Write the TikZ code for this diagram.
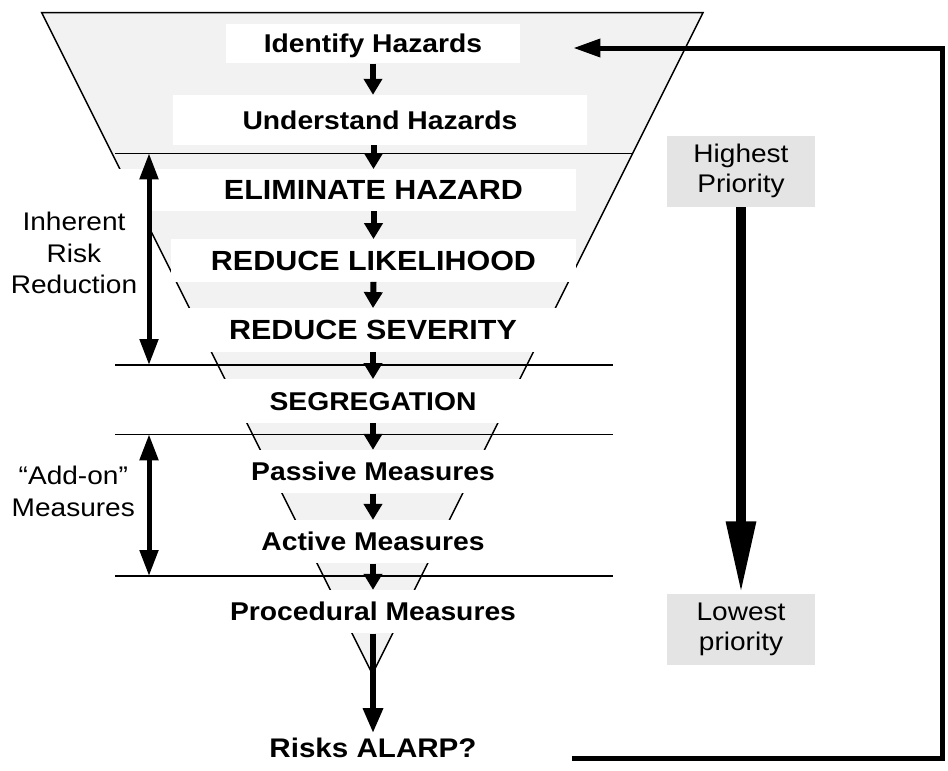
\documentclass[tikz,border=0pt]{standalone}
\usepackage{fontspec}
\setmainfont{Liberation Sans}[FakeStretch=1.1]
\usetikzlibrary{arrows.meta}
\definecolor{gfunnel}{HTML}{F2F2F2}
\definecolor{gprio}{HTML}{E4E4E4}
\begin{document}
\begin{tikzpicture}[x=1pt,y=-1pt,
  wbox/.style={fill=white, inner sep=0pt, text height=18.4pt, text depth=0pt,
    font=\bfseries\fontsize{25.7}{30}\selectfont},
  capsbox/.style={wbox, text height=19.8pt, font=\bfseries\fontsize{27.7}{32}\selectfont},
  flow/.style={line width=6pt, -{Triangle[length=16pt,width=18pt]}},
  dbl/.style={line width=5pt, {Triangle[length=26pt,width=18pt]}-{Triangle[length=26pt,width=18pt]}},
  lbl/.style={align=center, inner sep=0pt, font=\fontsize{25.5}{31.5}\selectfont},
  pbox/.style={fill=gprio, minimum width=148pt, minimum height=71pt, inner sep=0pt,
    align=center, font=\fontsize{25.5}{30}\selectfont},
  divider/.style={line width=1.5pt},
  loopline/.style={line width=5pt, -{Triangle[length=27pt,width=17.5pt]}}
]
\useasboundingbox (0,0) rectangle (948,771);

% funnel
\draw[fill=gfunnel, line width=1.5pt, line join=miter] (41.7,12.7) -- (703,12.7) -- (372.4,674) -- cycle;

% white cover behind the left label
\fill[white] (0,169.3) rectangle (171,210.7);
\fill[white] (0,169.3) rectangle (152,233.3);

% boxes
\node[wbox, minimum width=294pt, minimum height=39.3pt] (idh) at (373,43.7) {Identify Hazards};
\node[wbox, minimum width=414pt, minimum height=50pt] (und) at (380,120) {Understand Hazards};
\node[capsbox, minimum width=405pt, minimum height=41.4pt] (elim) at (373.5,190) {ELIMINATE HAZARD};
\node[capsbox, minimum width=405pt, minimum height=42.4pt] (lik) at (373.5,260.5) {REDUCE LIKELIHOOD};
\node[capsbox, minimum width=426pt, minimum height=43.4pt] (sev) at (373,330) {REDUCE SEVERITY};
\node[wbox, minimum width=346pt, minimum height=43.4pt] (seg) at (373,401) {SEGREGATION};
\node[wbox, minimum width=270pt, minimum height=43.3pt] (pas) at (373,471.7) {Passive Measures};
\node[wbox, minimum width=236pt, minimum height=43.3pt] (act) at (373,541.7) {Active Measures};
\node[wbox, minimum width=296pt, minimum height=43.3pt] (proc) at (373,611.7) {Procedural Measures};
\node[wbox, fill=none, text height=19.3pt, font=\bfseries\fontsize{26.9}{32}\selectfont] (alarp) at (373,748) {Risks ALARP?};

% dividers
\draw[divider] (115,153.3) -- (632.4,153.3);
\draw[divider] (115,365) -- (612.7,365);
\draw[divider] (115,434.3) -- (612.7,434.3);
\draw[divider] (115,576) -- (612.7,576);

% flow arrows
\draw[flow] (idh.south) -- (idh.south |- und.north);
\draw[flow] (elim.north |- und.south) -- (elim.north);
\draw[flow] (elim.south) -- (lik.north);
\draw[flow] (lik.south) -- (sev.north);
\draw[flow] (sev.south) -- (seg.north);
\draw[flow] (seg.south) -- (pas.north);
\draw[flow] (pas.south) -- (act.north);
\draw[flow] (act.south) -- (proc.north);
\draw[line width=6pt, -{Triangle[length=25pt,width=19pt]}] (proc.south) -- ([yshift=5pt]alarp.north);

% left bracket arrows and labels
\coordinate (inhT) at (149,153.3);
\coordinate (inhB) at (149,365);
\coordinate (addT) at (149,434.3);
\coordinate (addB) at (149,576);
\draw[dbl] (inhT) -- (inhB);
\draw[dbl] (addT) -- (addB);
\node[lbl] (inh) at (74,253.2) {Inherent\\Risk\\Reduction};
\node[lbl] (addon) at (73.3,491.2) {“Add-on”\\Measures};

% priority
\node[pbox] (hp) at (741,171.4) {Highest\\Priority};
\node[pbox] (lp) at (741,629) {Lowest\\priority};
\draw[line width=9.3pt, -{Triangle[length=72pt,width=28pt]}] (hp.south) -- (lp.north);

% feedback loop
\coordinate (loopS) at (571.7,758);
\coordinate (c1) at (942,758);
\coordinate (c2) at (942,48);
\coordinate (loopE) at (573.3,48);
\draw[loopline] (loopS) -- (c1) -- (c2) -- (loopE);
\end{tikzpicture}
\end{document}
